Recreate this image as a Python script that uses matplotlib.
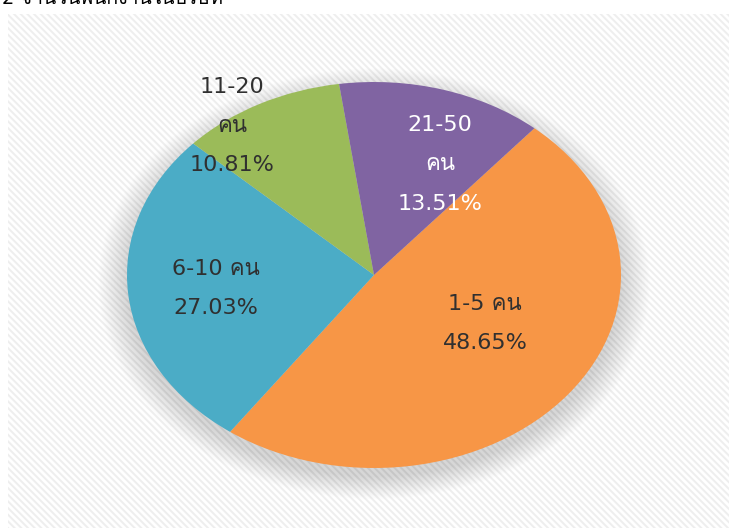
import matplotlib.pyplot as plt
from matplotlib import font_manager
from matplotlib.ft2font import FT2Font
from matplotlib.patches import Ellipse, Rectangle

# data
labels = ['1-5 คน', '6-10 คน', '11-20\nคน', '21-50\nคน']
percents = [48.65, 27.03, 10.81, 13.51]
colors = ['#f79646', '#4bacc6', '#9bbb59', '#8064a2']
text_colors = ['#303030', '#303030', '#303030', '#ffffff']
title = '2 จำนวนพนักงานในบริษัท'

# find a font that can draw Thai, used as fallback after DejaVu Sans
thai_fonts = []
for f in font_manager.fontManager.ttflist:
    try:
        if FT2Font(f.fname).get_char_index(ord('ค')):
            thai_fonts.append(f.name)
    except Exception:
        pass
plt.rcParams['font.family'] = ['DejaVu Sans'] + thai_fonts[:1]

fig = plt.figure(figsize=(7.29, 5.28), dpi=100)

# hatched background panel
bg = fig.add_axes([0, 0, 1, 1])
bg.set_xlim(0, 729)
bg.set_ylim(528, 0)
bg.axis('off')
plt.rcParams['hatch.linewidth'] = 1.4
bg.add_patch(Rectangle((8, 14), 721, 514, facecolor='white', edgecolor='#eeeeee',
                       hatch='\\\\\\\\\\', linewidth=0))
bg.text(2, 4, title, fontsize=14, color='black', va='baseline', ha='left')

# pie axes, squashed into an ellipse
ax = fig.add_axes([0, 0, 1, 1])
rx, ry = 247, 193
cx, cy = 374, 275

# soft shadow, mostly below the pie
for i in range(40):
    s = 1.0 + i * 0.003
    ax.add_patch(Ellipse((0, -0.045), 2 * s, 2 * s, facecolor='black',
                         alpha=0.004, linewidth=0, zorder=1))

wedges, _ = ax.pie(percents, colors=colors, startangle=49.5, counterclock=False,
                   wedgeprops=dict(linewidth=0), radius=1)
for w in wedges:
    w.set_zorder(2)

ax.set_aspect('auto')
ax.set_xlim(-cx / rx, (729 - cx) / rx)
ax.set_ylim(-(528 - cy) / ry, cy / ry)
ax.axis('off')

# labels (x, y in unit-circle coords)
label_pos = [(0.449, -0.25), (-0.64, -0.07), (-0.575, 0.771), (0.267, 0.573)]
for lab, p, (x, y), c in zip(labels, percents, label_pos, text_colors):
    ax.text(x, y, f'{lab}\n{p:.2f}%', ha='center', va='center', fontsize=16,
            color=c, linespacing=2.2, zorder=3)

fig.savefig('out.png', dpi=100)
